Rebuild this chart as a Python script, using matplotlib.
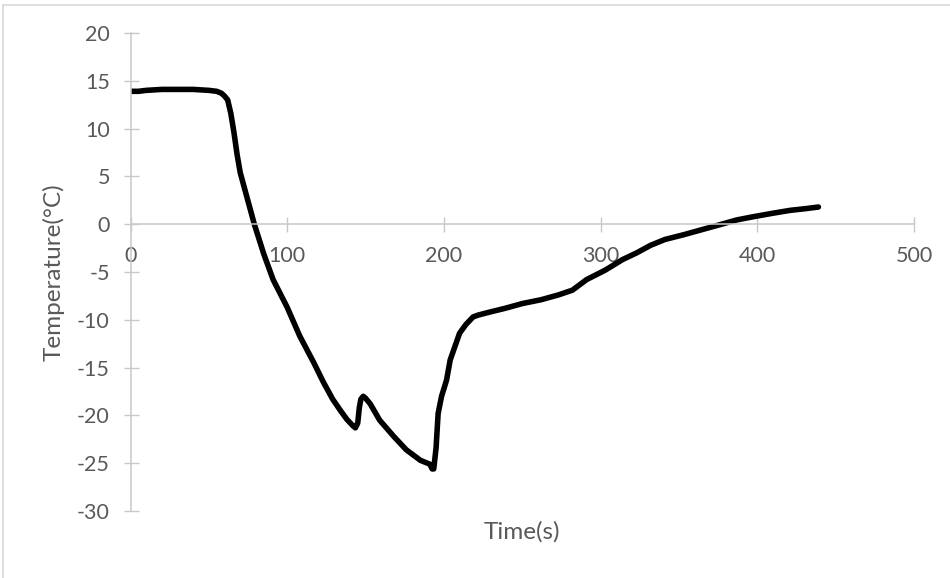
import matplotlib
matplotlib.use("Agg")
import matplotlib.pyplot as plt
from matplotlib.lines import Line2D

# temperature log of the sample
time_s = [0, 5, 10, 20, 30, 40, 50, 55, 58, 60, 62, 64, 66, 68, 70, 73, 76, 79,
          85, 91, 100, 108, 117, 123, 129, 134, 138, 142, 143.5, 145, 146, 147,
          148.5, 150, 153, 159, 168, 176, 185, 191, 192.5, 193.5, 195, 196.3,
          198.5, 201.7, 204, 207, 210, 214, 218.6, 222, 229, 239, 250, 262, 273,
          282, 291, 303, 314, 323, 332, 341, 353, 364, 375, 387, 398, 410, 421,
          432, 439]
temp_c = [13.9, 13.9, 14.0, 14.1, 14.1, 14.1, 14.0, 13.9, 13.7, 13.4, 13.0, 11.6,
          9.6, 7.3, 5.4, 3.6, 1.8, 0.0, -3.1, -5.8, -8.7, -11.7, -14.5, -16.5,
          -18.3, -19.5, -20.4, -21.1, -21.3, -20.8, -19.2, -18.3, -18.0, -18.2,
          -18.8, -20.5, -22.2, -23.6, -24.7, -25.1, -25.6, -25.6, -23.4, -19.8,
          -18.0, -16.3, -14.2, -12.8, -11.4, -10.5, -9.7, -9.5, -9.2, -8.8, -8.3,
          -7.9, -7.4, -6.9, -5.8, -4.8, -3.7, -3.0, -2.2, -1.6, -1.1, -0.6, -0.1,
          0.45, 0.8, 1.15, 1.45, 1.65, 1.8]

x_ticks = [0, 100, 200, 300, 400, 500]
y_ticks = [-30, -25, -20, -15, -10, -5, 0, 5, 10, 15, 20]

plt.rcParams['font.family'] = ['Lato', 'DejaVu Sans']
plt.rcParams['axes.unicode_minus'] = False

text_color = '#595959'
axis_color = '#c8c8c8'

fig = plt.figure(figsize=(9.5, 5.78), dpi=100)
ax = fig.add_axes([0.1374, 0.1159, 0.8247, 0.827])

ax.plot(time_s, temp_c, color='black', linewidth=4,
        solid_joinstyle='round', solid_capstyle='round')

ax.set_xlim(0, 500)
ax.set_ylim(-30, 20)
ax.set_xticks(x_ticks)
ax.set_yticks(y_ticks)

# x axis crosses at zero, Excel style
ax.spines['bottom'].set_position(('data', 0))
ax.spines['top'].set_visible(False)
ax.spines['right'].set_visible(False)
for side in ['left', 'bottom']:
    ax.spines[side].set_color(axis_color)
    ax.spines[side].set_linewidth(1.1)
ax.set_axisbelow(True)

ax.tick_params(axis='both', direction='inout', length=10.8, width=1,
               color=axis_color, labelcolor=text_color, labelsize=15.5)
ax.tick_params(axis='x', pad=10)
ax.tick_params(axis='y', pad=9.5)

ax.set_xlabel('Time(s)', fontsize=17.5, color=text_color)
ax.set_ylabel('Temperature(°C)', fontsize=17.5, color=text_color)
ax.xaxis.set_label_coords(0.5, -0.02)
ax.yaxis.set_label_coords(-0.0836, 0.5)

# chart area border (top and left edges)
fig.add_artist(Line2D([0.0032, 1.0], [0.9913, 0.9913], transform=fig.transFigure,
                      color='#d9d9d9', linewidth=1.2))
fig.add_artist(Line2D([0.0032, 0.0032], [0.0, 0.9913], transform=fig.transFigure,
                      color='#d9d9d9', linewidth=1.2))

fig.savefig('out.png', dpi=100)
